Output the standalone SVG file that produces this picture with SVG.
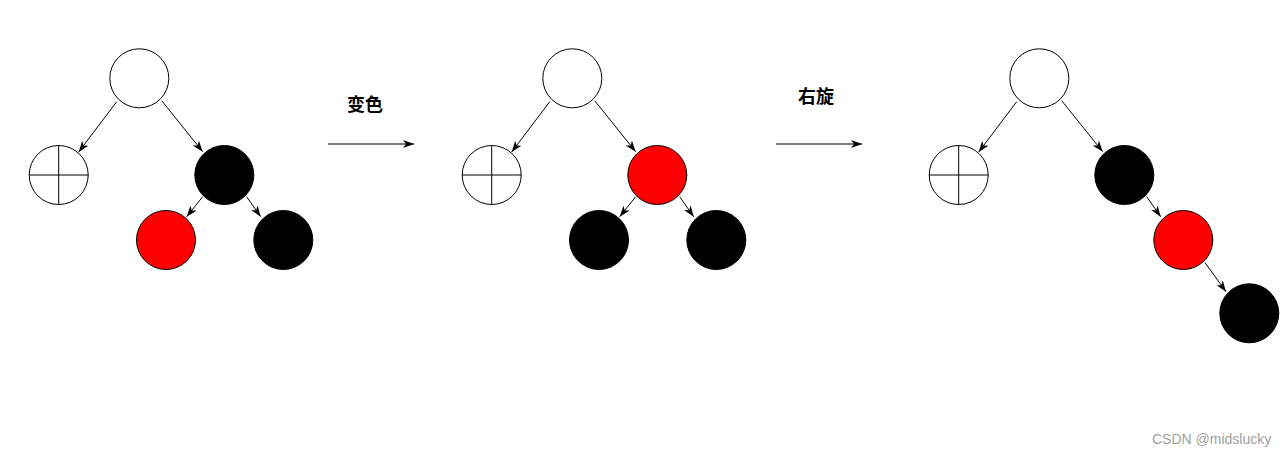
<svg xmlns="http://www.w3.org/2000/svg" width="1287" height="456" viewBox="0 0 1287 456">
<style>
.n{stroke:#000;stroke-width:1}
.w{fill:#fff}
.b{fill:#000}
.r{fill:#ff0000}
.e{stroke:#000;stroke-width:1;fill:none;marker-end:url(#arr)}
.x{stroke:#000;stroke-width:1}
.lbl{font-family:"Liberation Sans","Noto Sans CJK SC",sans-serif;font-size:18px;font-weight:bold;fill:#000;text-anchor:middle}
.wm{font-family:"Liberation Sans",Arial,sans-serif;font-size:14px;fill:#a0a0a0}
</style>
<defs>
<marker id="arr" viewBox="0 0 11 8" refX="11" refY="4" markerWidth="11" markerHeight="8" markerUnits="userSpaceOnUse" orient="auto">
<path d="M11,4 L0,0 L3,4 L0,8 Z" fill="#000"/>
</marker>
</defs>
<rect width="1287" height="456" fill="#fff"/>

<g id="connectors">
<path class="e" d="M116.7,101.7 L78.7,152"/>
<path class="e" d="M161.7,100.7 L202.7,151.7"/>
<path class="e" d="M202.7,196.7 L186.7,216.7"/>
<path class="e" d="M246.7,196.7 L260.7,216.7"/>
<path class="e" d="M328,144 L414,144"/>
<path class="e" d="M549.7,101.7 L511.7,152"/>
<path class="e" d="M594.7,100.7 L635.7,151.7"/>
<path class="e" d="M635.7,196.7 L619.7,216.7"/>
<path class="e" d="M679.7,196.7 L693.7,216.7"/>
<path class="e" d="M776,144 L862,144"/>
<path class="e" d="M1016.7,101.7 L978.7,152"/>
<path class="e" d="M1061.7,100.7 L1102.7,151.7"/>
<path class="e" d="M1146.7,196.7 L1160.7,216.7"/>
<path class="e" d="M1205,262.7 L1226,291.7"/>
</g>

<g id="label-1"><text class="lbl" x="365" y="110.5">变色</text></g>
<g id="label-2"><text class="lbl" x="816" y="102.5">右旋</text></g>

<g id="t1-root"><circle class="n w" cx="139.3" cy="78.3" r="29.5"/></g>
<g id="t1-nil"><circle class="n w" cx="58.7" cy="175" r="29.5"/><path class="x" d="M29.2,175 H88.2 M58.7,145.5 V204.5"/></g>
<g id="t1-parent"><circle class="n b" cx="224.3" cy="175" r="29.5"/></g>
<g id="t1-red"><circle class="n r" cx="166" cy="240" r="29.5"/></g>
<g id="t1-black"><circle class="n b" cx="283.3" cy="240" r="29.5"/></g>

<g id="t2-root"><circle class="n w" cx="572.3" cy="78.3" r="29.5"/></g>
<g id="t2-nil"><circle class="n w" cx="491.7" cy="175" r="29.5"/><path class="x" d="M462.2,175 H521.2 M491.7,145.5 V204.5"/></g>
<g id="t2-parent"><circle class="n r" cx="657.3" cy="175" r="29.5"/></g>
<g id="t2-left"><circle class="n b" cx="599" cy="240" r="29.5"/></g>
<g id="t2-right"><circle class="n b" cx="716.3" cy="240" r="29.5"/></g>

<g id="t3-root"><circle class="n w" cx="1039.3" cy="78.3" r="29.5"/></g>
<g id="t3-nil"><circle class="n w" cx="958.7" cy="175" r="29.5"/><path class="x" d="M929.2,175 H988.2 M958.7,145.5 V204.5"/></g>
<g id="t3-black"><circle class="n b" cx="1124.3" cy="175" r="29.5"/></g>
<g id="t3-red"><circle class="n r" cx="1183.3" cy="240" r="29.5"/></g>
<g id="t3-black2"><circle class="n b" cx="1249.3" cy="313.3" r="29.5"/></g>

<text class="wm" x="1152" y="443.5">CSDN @midslucky</text>
</svg>
